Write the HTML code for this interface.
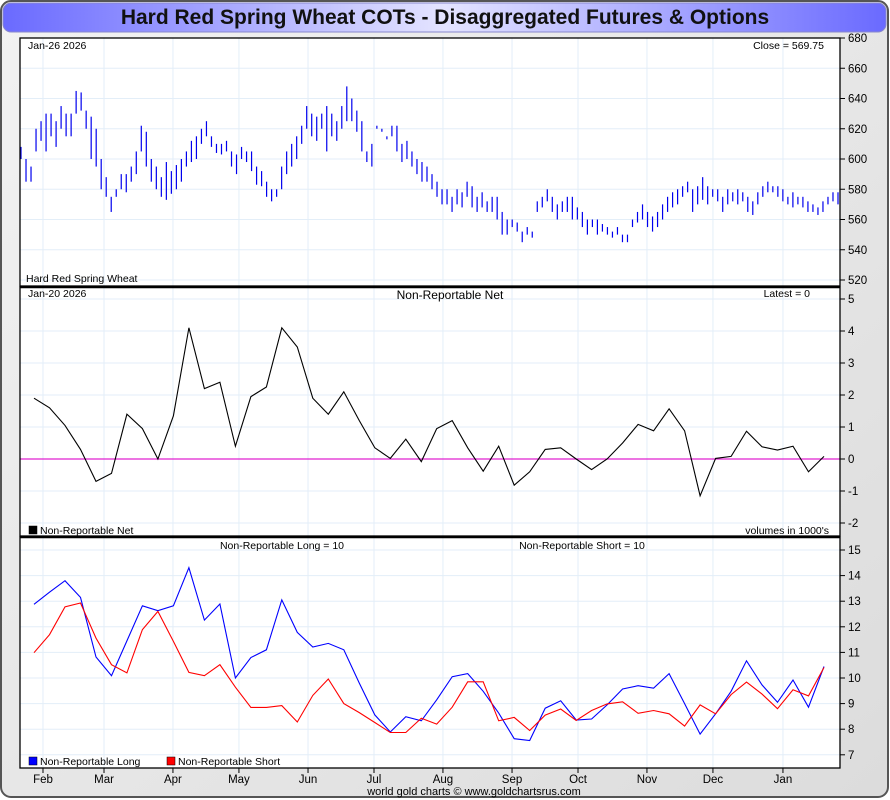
<!DOCTYPE html>
<html><head><meta charset="utf-8">
<style>
html,body{margin:0;padding:0;background:#fff;}
svg{display:block;font-family:"Liberation Sans",Arial,sans-serif;}
</style></head>
<body>
<svg id="c" width="890" height="800" viewBox="0 0 890 800" xmlns="http://www.w3.org/2000/svg">
<defs>
<linearGradient id="tg" x1="0" x2="1" y1="0" y2="0">
<stop offset="0" stop-color="#6a6aff"/><stop offset="0.5" stop-color="#e4e4ff"/><stop offset="1" stop-color="#6a6aff"/>
</linearGradient>
<linearGradient id="fg" x1="0" x2="1" y1="0" y2="1">
<stop offset="0" stop-color="#f2f2f2"/><stop offset="1" stop-color="#dcdcdc"/>
</linearGradient>
</defs>
<rect x="1" y="1" width="887" height="796" rx="10" fill="url(#fg)" stroke="#555" stroke-width="2"/>
<rect x="3" y="3" width="883" height="29" rx="8" fill="url(#tg)" stroke="#8888cc"/>
<text x="445" y="24" text-anchor="middle" font-size="21" font-weight="bold" fill="#111">Hard Red Spring Wheat COTs - Disaggregated Futures &amp; Options</text>
<rect x="20" y="38" width="820" height="730" fill="#fff"/>
<g id="grid"></g>
<g id="marks"></g>
<g id="frames"></g>
<g id="labels"></g>
</svg>
<script>
// ---- data ----
const months = ["Feb","Mar","Apr","May","Jun","Jul","Aug","Sep","Oct","Nov","Dec","Jan"];
const monthPos = [0.58,4.52,8.97,13.23,17.69,21.95,26.4,30.86,35.12,39.57,43.83,48.35]; // month position in weeks from first bar
const priceTicks = [520,540,560,580,600,620,640,660,680];
const netTicks = [-2,-1,0,1,2,3,4,5];
const lsTicks = [7,8,9,10,11,12,13,14,15];
const priceHigh = [608,600,595,620,625,630,630,625,635,630,630,645,644,632,628,620,600,588,575,580,590,590,595,605,622,618,600,595,588,598,592,596,600,605,612,615,620,625,615,610,610,612,605,603,608,605,605,595,592,585,580,580,595,605,610,615,622,635,630,628,630,635,630,625,635,648,640,632,625,605,610,622,620,615,622,622,610,612,605,600,598,595,590,585,580,580,575,580,578,585,582,575,578,572,575,575,565,560,560,558,552,555,552,572,575,580,575,570,572,575,575,568,565,560,560,560,557,555,552,555,550,550,560,565,570,565,562,565,570,575,578,580,582,585,580,582,588,582,580,580,575,580,578,580,578,575,572,578,582,585,582,582,580,575,578,575,575,572,570,568,572,575,578,578];
const priceLow = [600,585,585,605,612,605,615,608,620,615,615,630,632,620,600,595,580,575,565,575,580,578,585,590,605,595,585,580,575,573,577,580,585,595,598,600,610,615,608,604,603,605,595,590,600,598,592,583,582,575,572,575,580,590,595,600,610,620,615,612,620,605,615,612,620,625,625,618,605,598,595,620,618,613,615,605,598,600,595,590,585,585,580,575,570,570,565,570,568,575,568,565,568,565,565,560,550,550,555,552,545,550,548,565,568,572,565,560,565,565,560,560,555,550,555,550,552,550,548,550,545,545,555,558,560,555,552,555,560,565,568,570,575,578,565,570,573,570,575,572,565,570,572,570,572,565,563,570,575,578,578,575,572,570,568,570,568,565,565,563,565,570,572,570];
const netValues = [1.9,1.6,1.05,0.3,-0.7,-0.45,1.4,0.95,0,1.35,4.1,2.2,2.4,0.4,1.95,2.25,4.1,3.5,1.9,1.4,2.1,1.2,0.35,0.02,0.62,-0.08,0.95,1.2,0.35,-0.38,0.4,-0.82,-0.4,0.3,0.35,0,-0.33,0,0.5,1.08,0.88,1.57,0.88,-1.15,0.02,0.08,0.87,0.38,0.28,0.4,-0.4,0.08];
const longValues = [12.88,13.35,13.8,13.15,10.82,10.09,11.45,12.82,12.63,12.82,14.31,12.26,12.89,10.0,10.8,11.1,13.05,11.78,11.21,11.35,11.1,9.8,8.56,7.89,8.49,8.33,9.15,10.05,10.17,9.48,8.63,7.63,7.56,8.82,9.11,8.36,8.4,8.95,9.57,9.7,9.6,10.17,9.0,7.81,8.6,9.48,10.67,9.73,9.05,9.92,8.86,10.45];
const shortValues = [10.99,11.69,12.78,12.93,11.56,10.52,10.2,11.89,12.6,11.43,10.22,10.09,10.52,9.64,8.85,8.85,8.92,8.28,9.32,9.96,9.0,8.65,8.26,7.87,7.87,8.43,8.2,8.86,9.85,9.85,8.33,8.46,7.95,8.55,8.79,8.34,8.73,8.99,9.07,8.62,8.73,8.6,8.12,8.95,8.6,9.35,9.84,9.37,8.8,9.54,9.3,10.41];

// ---- axes ----
const L=20,R=840;
const xw = w => 34 + w*(790/51);
const xd = i => 21 + i*(817/(priceHigh.length-1));
const yP = v => 38 + (680-v)*1.5125;
const yN = v => 299 + (5-v)*32;
const yL = v => 550 + (15-v)*25.6;
const NS="http://www.w3.org/2000/svg";
function mk(parent,tag,attrs){const e=document.createElementNS(NS,tag);for(const k in attrs)e.setAttribute(k,attrs[k]);document.getElementById(parent).appendChild(e);return e;}
function txt(parent,x,y,s,size,anchor,fill){const e=mk(parent,"text",{x:x,y:y,"font-size":size,"text-anchor":anchor||"start",fill:fill||"#000"});e.textContent=s;return e;}

const panels=[{t:38,b:286,ticks:priceTicks,y:yP},{t:287,b:536,ticks:netTicks,y:yN},{t:537,b:768,ticks:lsTicks,y:yL}];
panels.forEach((p,pi)=>{
  monthPos.forEach(m=>{
    const g=mk("grid","line",{x1:xw(m),x2:xw(m),y1:p.t,y2:p.b,stroke:"#e3eef8","stroke-width":1});
    
    
  });
  p.ticks.forEach(v=>{
    const y=p.y(v);
    const g=mk("grid","line",{x1:L,x2:R,y1:y,y2:y,stroke:"#e3eef8","stroke-width":1});
    
    
    mk("labels","line",{x1:R,x2:R+5,y1:y,y2:y,stroke:"#000"});
    const t=txt("labels",R+8,y+4,String(v),11.5);
    
    
  });
  const f=mk("frames","rect",{x:L,y:p.t,width:R-L,height:p.b-p.t,fill:"none",stroke:"#000","stroke-width":1.3});
  
  
  if(pi>0){mk("frames","line",{x1:L,x2:R,y1:p.t,y2:p.t,stroke:"#000","stroke-width":2.5});}
});

// price bars
priceHigh.forEach((h,i)=>{
  const x=xd(i);
  const b=mk("marks","line",{x1:x,x2:x,y1:yP(h),y2:yP(priceLow[i]),stroke:"#0000ee","stroke-width":1.2});
  
  
});
// zero line
const z=mk("marks","line",{x1:L,x2:R,y1:yN(0),y2:yN(0),stroke:"#e020d0","stroke-width":1.3});


function series(vals,yf,color,name){
  const pts=vals.map((v,i)=>xw(i).toFixed(1)+","+yf(v).toFixed(1)).join(" ");
  const pl=mk("marks","polyline",{points:pts,fill:"none",stroke:color,"stroke-width":1.1});
  
  
}
series(netValues,yN,"#000","net-line");
series(longValues,yL,"#0000ff","long-line");
series(shortValues,yL,"#ff0000","short-line");

// x labels
months.forEach((m,i)=>{
  const x=xw(monthPos[i]);
  mk("labels","line",{x1:x,x2:x,y1:768,y2:773,stroke:"#000"});
  const t=txt("labels",x,783,m,11.5,"middle");
  
  
});
// panel texts
const texts=[
 [28,49,"Jan-26  2026",10.5,"start","price-date"],
 [824,49,"Close = 569.75",10.5,"end","close-label"],
 [26,282,"Hard Red Spring Wheat",10.5,"start","price-panel-name"],
 [28,297,"Jan-20  2026",10.5,"start","net-date"],
 [450,299,"Non-Reportable Net",12,"middle","net-title"],
 [810,297,"Latest = 0",10.5,"end","latest-label"],
 [40,534,"Non-Reportable Net",10.5,"start","net-legend"],
 [829,534,"volumes in 1000's",10.5,"end","volumes-note"],
 [282,549,"Non-Reportable Long = 10",10.5,"middle","long-title"],
 [582,549,"Non-Reportable Short = 10",10.5,"middle","short-title"],
 [40,765,"Non-Reportable Long",10.5,"start","long-legend"],
 [178,765,"Non-Reportable Short",10.5,"start","short-legend"],
 [474,795,"world gold charts \u00a9 www.goldchartsrus.com",11,"middle","footer-credit"]
];
texts.forEach(a=>{const t=txt("labels",a[0],a[1],a[2],a[3],a[4]);});
const sw=[[29,526,"#000"],[29,757,"#0000ff"],[167,757,"#ff0000"]];
sw.forEach(s=>{const r=mk("labels","rect",{x:s[0],y:s[1],width:8,height:8,fill:s[2],stroke:"#000","stroke-width":0.5});});
</script>
</body></html>
